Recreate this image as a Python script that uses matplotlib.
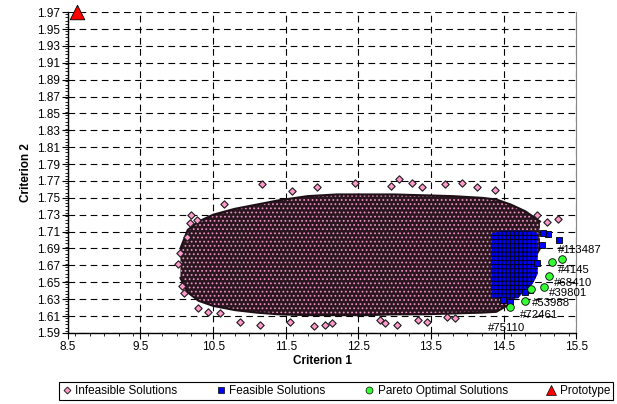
import matplotlib.pyplot as plt
from matplotlib.lines import Line2D
from matplotlib.ticker import MultipleLocator

plt.rcParams['font.family'] = ['Liberation Sans', 'DejaVu Sans']
plt.rcParams['hatch.linewidth'] = 0.75

# dense cloud of infeasible solutions: outline read per Criterion 1 column
cloud_x = [10.05, 10.15, 10.3, 10.5, 10.8, 11.1, 11.4, 11.8, 12.2, 12.6, 13.0,
           13.4, 13.8, 14.2, 14.4, 14.6, 14.8, 15.0]
cloud_top = [1.690, 1.712, 1.722, 1.730, 1.737, 1.742, 1.747, 1.752, 1.754, 1.754,
             1.754, 1.753, 1.752, 1.750, 1.748, 1.742, 1.734, 1.722]
cloud_bot = [1.655, 1.638, 1.628, 1.622, 1.617, 1.614, 1.612, 1.611, 1.611, 1.611,
             1.612, 1.612, 1.613, 1.614, 1.615, 1.625, 1.660, 1.690]

# scattered infeasible points outside the dense part
infeas_x = [11.17, 10.65, 10.2, 10.01, 10.07, 10.1, 10.29, 10.43, 10.6, 10.87, 11.14,
            11.56, 11.59, 11.93, 12.45, 12.95, 13.06, 13.24, 13.38, 13.69, 13.93, 14.13,
            14.38, 11.89, 12.04, 12.13, 12.80, 12.87, 13.03, 13.32, 13.44, 13.72, 13.83,
            14.96, 15.1, 15.25, 10.18, 10.28, 10.04, 10.14]
infeas_y = [1.766, 1.743, 1.730, 1.672, 1.646, 1.637, 1.620, 1.615, 1.614, 1.603, 1.599,
            1.603, 1.758, 1.763, 1.767, 1.764, 1.772, 1.767, 1.763, 1.766, 1.767, 1.763,
            1.759, 1.598, 1.599, 1.602, 1.605, 1.602, 1.599, 1.605, 1.603, 1.609, 1.608,
            1.730, 1.721, 1.725, 1.720, 1.724, 1.685, 1.704]

# dense block of feasible solutions
block_x = [14.33, 14.5, 14.7, 14.8, 14.9, 14.97]
block_top = [1.708, 1.711, 1.711, 1.711, 1.710, 1.708]
block_bot = [1.632, 1.630, 1.631, 1.641, 1.648, 1.660]

feas_x = [15.26, 15.11, 15.04, 15.03, 14.96, 14.86, 14.79, 14.59, 14.49]
feas_y = [1.700, 1.707, 1.708, 1.694, 1.673, 1.641, 1.639, 1.627, 1.629]

# pareto optimal solutions
pareto_x = [15.30, 15.17, 15.12, 15.05, 14.87, 14.80, 14.59]
pareto_y = [1.677, 1.674, 1.657, 1.644, 1.642, 1.628, 1.621]
pareto_ids = ['#113487', '#4145', '#68410', '#39801', '#53988', '#72461', '#75110']

proto_x = [8.62]
proto_y = [1.97]

x_ticks = [8.5, 9.5, 10.5, 11.5, 12.5, 13.5, 14.5, 15.5]

# label offsets in points
label_off = [(-3, 7), (4, -5.5), (4, -5), (4, -4), (1, -10), (-4, -10), (-16, -15)]

fig = plt.figure(figsize=(6.17, 4.04), dpi=100)
ax = fig.add_axes([0.110, 0.176, 0.824, 0.794])

ax.fill_between(cloud_x, cloud_bot, cloud_top, facecolor='#2a161f',
                edgecolor='#f090c4', hatch='....', linewidth=0, zorder=2)
ax.plot(cloud_x, cloud_top, color='#1e1016', linewidth=1.5, zorder=2)
ax.plot(cloud_x, cloud_bot, color='#1e1016', linewidth=1.5, zorder=2)
ax.scatter(infeas_x, infeas_y, marker='D', s=14, facecolor='#ff99cc',
           edgecolor='#1a1a1a', linewidth=0.8, zorder=3)

ax.fill_between(block_x, block_bot, block_top, facecolor='#0000ff',
                edgecolor='#000022', hatch='++++', linewidth=0, zorder=4)
ax.scatter(feas_x, feas_y, marker='s', s=14, facecolor='#0000ff',
           edgecolor='#000000', linewidth=0.6, zorder=5)

ax.scatter(pareto_x, pareto_y, marker='o', s=30, facecolor='#33ff33',
           edgecolor='#000000', linewidth=0.6, zorder=6)
for px, py, lab, off in zip(pareto_x, pareto_y, pareto_ids, label_off):
    ax.annotate(lab, (px, py), xytext=off, textcoords='offset points',
                fontsize=8.2, ha='left', va='center', zorder=7)

ax.scatter(proto_x, proto_y, marker='^', s=110, facecolor='#ff0000',
           edgecolor='#000000', linewidth=0.6, zorder=6, clip_on=False)

ax.set_xlim(8.5, 15.5)
ax.set_ylim(1.59, 1.97)
ax.set_xticks(x_ticks)
ax.xaxis.set_minor_locator(MultipleLocator(0.2))
ax.set_yticks([1.59 + 0.02 * i for i in range(20)])
ax.yaxis.set_minor_locator(MultipleLocator(0.004))
ax.xaxis.set_major_formatter(plt.FormatStrFormatter('%.1f'))
ax.yaxis.set_major_formatter(plt.FormatStrFormatter('%.2f'))
ax.tick_params(which='major', direction='out', length=4, width=0.8,
               labelsize=8.5, pad=1.5)
ax.tick_params(which='minor', direction='out', length=2.5, width=0.6)

ax.grid(True, which='major', color='black', linestyle=(0, (6, 4)), linewidth=0.8, zorder=1)
ax.set_axisbelow(True)
ax.spines['top'].set_visible(False)
ax.spines['right'].set_color('#888888')
ax.spines['left'].set_linewidth(1.0)
ax.spines['bottom'].set_linewidth(1.0)

ax.set_xlabel('Criterion 1', fontsize=8.5, fontweight='bold', labelpad=2)
ax.set_ylabel('Criterion 2', fontsize=8.5, fontweight='bold', labelpad=4)

handles = [
    Line2D([], [], linestyle='none', marker='D', markersize=3.5,
           markerfacecolor='#ff99cc', markeredgecolor='#222222', markeredgewidth=0.7),
    Line2D([], [], linestyle='none', marker='s', markersize=4,
           markerfacecolor='#0000ff', markeredgecolor='#000000', markeredgewidth=0.5),
    Line2D([], [], linestyle='none', marker='o', markersize=5,
           markerfacecolor='#33ff33', markeredgecolor='#000000', markeredgewidth=0.5),
    Line2D([], [], linestyle='none', marker='^', markersize=7,
           markerfacecolor='#ff0000', markeredgecolor='#000000', markeredgewidth=0.5),
]
labels = ['Infeasible Solutions', 'Feasible Solutions', 'Pareto Optimal Solutions', 'Prototype']
leg = fig.legend(handles, labels, loc='center', bbox_to_anchor=(0.545, 0.032), ncol=4,
                 fontsize=8.5, frameon=True, fancybox=False, edgecolor='black',
                 framealpha=1, handlelength=0.8, handletextpad=0.3,
                 columnspacing=3.3, borderpad=0.25)
leg.get_frame().set_linewidth(0.8)

fig.savefig('out.png', dpi=100)
